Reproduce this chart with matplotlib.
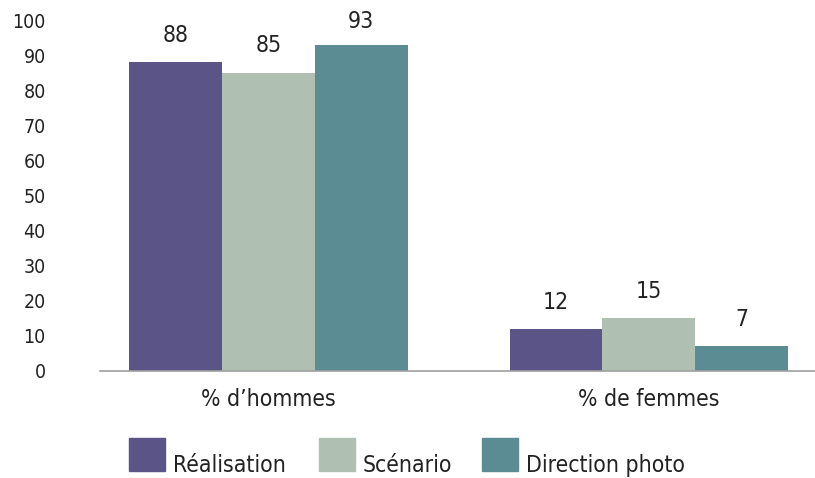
import matplotlib.pyplot as plt
from matplotlib.patches import Rectangle

categories = ["% d\u2019hommes", "% de femmes"]
series = ["Réalisation", "Scénario", "Direction photo"]
values = [[88, 12], [85, 15], [93, 7]]
colors = ["#5a5487", "#afbfb1", "#5c8c93"]

plt.rcParams['font.family'] = ['DejaVu Sans']
plt.rcParams['font.stretch'] = 'condensed'
plt.rcParams['font.size'] = 16.5
txt_color = "#222222"

fig = plt.figure(figsize=(8.15, 4.78), dpi=100)
W, H = 815, 478
ax = fig.add_axes([100 / W, 1 - 371 / H, 715 / W, (371 - 20) / H])

bw = 0.244
x = range(len(categories))
for i, (name, vals) in enumerate(zip(series, values)):
    pos = [k + (i - 1) * bw for k in x]
    bars = ax.bar(pos, vals, width=bw, color=colors[i], label=name)
    for b, v in zip(bars, vals):
        # labels near the top get squeezed under the plot edge, like the original
        ax.annotate(str(v), (b.get_x() + b.get_width() / 2, min(v, 92)),
                    xytext=(0, 11), textcoords="offset points",
                    ha="center", va="bottom", color=txt_color)

ax.set_xlim(-0.443, 1.437)
ax.set_ylim(0, 100)
ax.set_yticks(range(0, 101, 10))
ax.set_xticks(list(x))
ax.set_xticklabels(categories)
ax.tick_params(axis="both", length=0, colors=txt_color)
ax.tick_params(axis="y", pad=39, labelsize=14)
ax.tick_params(axis="x", pad=12)
for s in ["top", "right", "left"]:
    ax.spines[s].set_visible(False)
ax.spines["bottom"].set_color("#a0a0a0")
ax.spines["bottom"].set_linewidth(1.2)

# legend drawn by hand
leg_x = [129, 319, 482]
for xs, name, c in zip(leg_x, series, colors):
    fig.add_artist(Rectangle((xs / W, 1 - 471 / H), 36 / W, 33 / H,
                             transform=fig.transFigure, color=c))
    fig.text((xs + 44) / W, 1 - 472 / H, name, ha="left", va="baseline",
             color=txt_color)

fig.savefig("out.png", dpi=100)
